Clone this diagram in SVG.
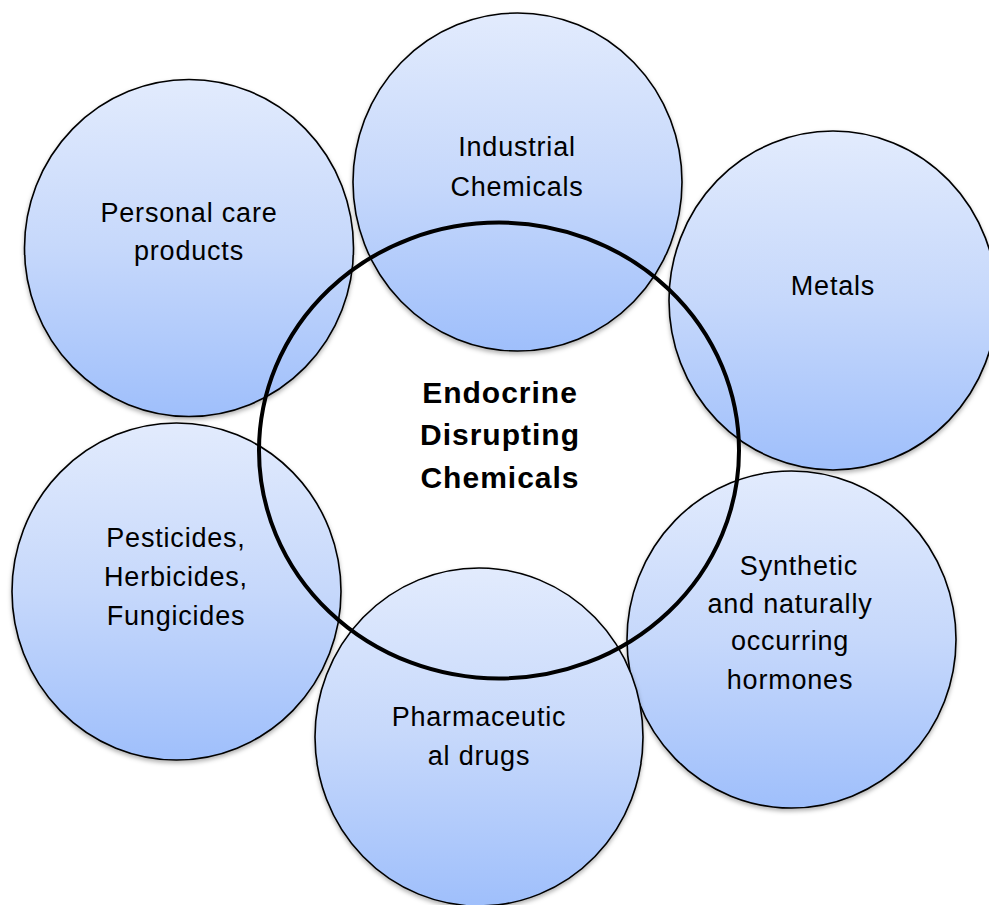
<svg xmlns="http://www.w3.org/2000/svg" width="989" height="905" viewBox="0 0 989 905">
<defs>
<linearGradient id="g" x1="0" y1="0" x2="0" y2="1">
<stop offset="0" stop-color="#e2ebfd"/>
<stop offset="0.5" stop-color="#c6d8fb"/>
<stop offset="1" stop-color="#9fbffb"/>
</linearGradient>
<filter id="sh" x="-10%" y="-10%" width="120%" height="125%">
<feDropShadow dx="0" dy="2.5" stdDeviation="2" flood-color="#000" flood-opacity="0.3"/>
</filter>
</defs>
<style>
.c{fill:url(#g);stroke:#000;stroke-width:1.6;filter:url(#sh)}
.t{font-family:"Liberation Sans",Arial,sans-serif;font-size:27px;letter-spacing:0.8px;fill:#000;text-anchor:middle}
.b{font-family:"Liberation Sans",Arial,sans-serif;font-size:30px;font-weight:bold;letter-spacing:1px;fill:#000;text-anchor:middle}
</style>
<rect width="989" height="905" fill="#fff"/>
<g id="personal-care">
<ellipse class="c" cx="189" cy="248" rx="164.5" ry="168.5"/>
<text class="t" x="189" y="222">Personal care</text>
<text class="t" x="189" y="260">products</text>
</g>
<g id="industrial">
<ellipse class="c" cx="517.5" cy="182" rx="164.5" ry="169"/>
<text class="t" x="517" y="156">Industrial</text>
<text class="t" x="517" y="196">Chemicals</text>
</g>
<g id="metals">
<ellipse class="c" cx="833" cy="300.5" rx="164" ry="169.5"/>
<text class="t" x="833" y="295">Metals</text>
</g>
<g id="pesticides">
<ellipse class="c" cx="176.5" cy="591.5" rx="164.5" ry="168.5"/>
<text class="t" x="176" y="547">Pesticides,</text>
<text class="t" x="176" y="586">Herbicides,</text>
<text class="t" x="176" y="625">Fungicides</text>
</g>
<g id="synthetic">
<ellipse class="c" cx="791.5" cy="639.5" rx="164.5" ry="168.5"/>
<text class="t" x="799" y="575">Synthetic</text>
<text class="t" x="790" y="613">and naturally</text>
<text class="t" x="790" y="650">occurring</text>
<text class="t" x="790" y="689">hormones</text>
</g>
<g id="pharmaceutical">
<ellipse class="c" cx="479" cy="737" rx="164" ry="169"/>
<text class="t" x="479" y="726">Pharmaceutic</text>
<text class="t" x="479" y="765">al drugs</text>
</g>
<g id="edc">
<ellipse cx="499" cy="450.5" rx="240" ry="228" fill="none" stroke="#000" stroke-width="4"/>
<text class="b" x="500" y="403">Endocrine</text>
<text class="b" x="500" y="445">Disrupting</text>
<text class="b" x="500" y="488">Chemicals</text>
</g>
<g id="connectors"/>
</svg>
